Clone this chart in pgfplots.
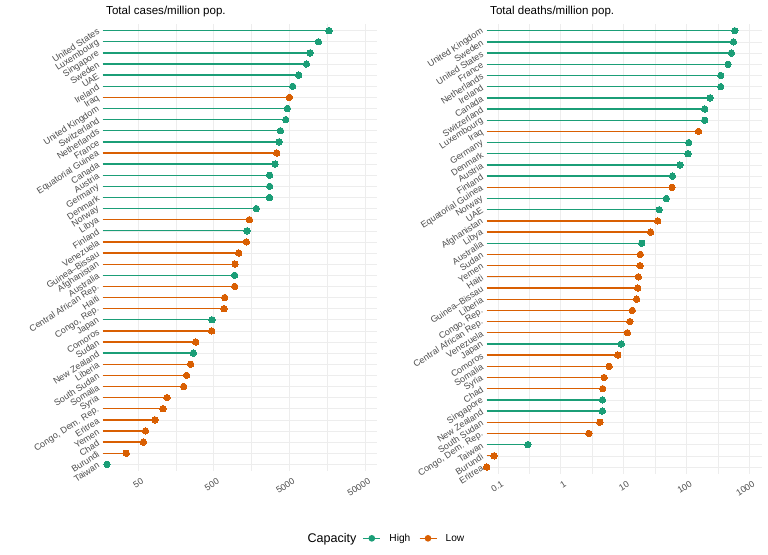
\documentclass[border=0pt]{standalone}
\usepackage{fontspec}
\setmainfont{Liberation Sans}
\usepackage{pgfplots}
\usepackage{pgfplotstable}
\pgfplotsset{compat=1.18}
\definecolor{high}{HTML}{1B9E77}
\definecolor{low}{HTML}{D95F02}
\definecolor{gridc}{HTML}{EDEDED}
\definecolor{tickc}{HTML}{4D4D4D}

% Total cases per million population
\pgfplotstableread{
y v
40 16800
39 12170
38 9420
37 8450
36 6680
35 5560
33 4730
32 4500
31 3830
30 3670
28 3250
27 2760
26 2760
25 2740
24 1840
22 1385
18 950
14 476
11 270
1 19.5
}\casesHigh
\pgfplotstableread{
y v
34 5030
29 3420
23 1490
21 1358
20 1074
19 959
17 950
16 701
15 687
13 472
12 290
10 249
9 220
8 201
7 121
6 107
5 84
4 63
3 59
2 35
}\casesLow
% Total deaths per million population
\pgfplotstableread{
y v
40 590
39 561
38 521
37 461
36 353
35 352
34 238
33 196
32 196
30 109
29 106
28 79
27 60
25 48
24 37
21 19.5
12 9.2
7 4.62
6 4.6
3 0.30
}\deathsHigh
\pgfplotstableread{
y v
31 156
26 59
23 35
22 27
20 18.5
19 18.3
18 17.2
17 16.8
16 16.2
15 13.8
14 12.6
13 11.5
11 8.1
10 5.9
9 4.9
8 4.66
5 4.2
4 2.8
2 0.087
1 0.0664
}\deathsLow

\pgfplotsset{
  lolli/.style={
    scale only axis,
    ymin=0.4, ymax=40.6,
    ytick={1,...,40},
    axis line style={draw=none},
    major tick length=0pt, minor tick length=0pt,
    grid=both,
    major grid style={gridc, line width=0.6bp},
    minor grid style={gridc, line width=0.35bp},
    /pgf/number format/assume math mode=true,
    yticklabel style={xshift=-4.2bp, rotate=33, anchor=east, inner sep=0pt,
      font=\fontsize{9}{10}\selectfont, text=tickc},
    xticklabel style={xshift=3bp, yshift=-6.5bp, rotate=32, anchor=north east, inner sep=0pt,
      font=\fontsize{9}{10}\selectfont, text=tickc},
    clip=true,
  },
  hi/.style={xcomb, color=high, line width=1.35bp, mark=*, mark size=3.2bp,
    mark options={fill=high, draw=high, line width=0pt},
    legend image code/.code={\draw[high, line width=1.3bp] (0bp,0bp) -- (17bp,0bp);
      \fill[high] (8.5bp,0bp) circle (2.6bp);}},
  lo/.style={xcomb, color=low, line width=1.35bp, mark=*, mark size=3.2bp,
    mark options={fill=low, draw=low, line width=0pt},
    legend image code/.code={\draw[low, line width=1.3bp] (0bp,0bp) -- (17bp,0bp);
      \fill[low] (8.5bp,0bp) circle (2.6bp);}},
}

\begin{document}
\begin{tikzpicture}
\useasboundingbox (0,0) rectangle (768bp,555bp);
\fill[white] (0,0) rectangle (768bp,555bp);

\begin{axis}[xmode=log, log origin x=infty, lolli,
  at={(102.7bp,84bp)}, anchor=south west,
  width=274bp, height=447bp,
  xmin=17.1, xmax=71800,
  xtick={50,500,5000,50000},
  xticklabels={50,500,5000,50000},
  minor xtick={158.1,1581,15811},
  yticklabels={Taiwan, Burundi, Chad, Yemen, Eritrea, {Congo, Dem. Rep.}, Syria, Somalia, South Sudan, Liberia, New Zealand, Sudan, Comoros, Japan, {Congo, Rep.}, Haiti, Central African Rep., Australia, Afghanistan, Guinea--Bissau, Venezuela, Finland, Libya, Norway, Denmark, Germany, Austria, Canada, Equatorial Guinea, France, Netherlands, Switzerland, United Kingdom, Iraq, Ireland, UAE, Sweden, Singapore, Luxembourg, United States},
  legend columns=-1,
  legend style={at={(0.948,-0.1506)}, anchor=west, draw=none, fill=none,
    inner sep=0pt, font=\fontsize{10.2}{12}\selectfont,
    nodes={inner sep=0pt, text=black},
    /tikz/every odd column/.append style={column sep=8.5bp},
    /tikz/every even column/.append style={column sep=8.5bp}},
]
\addplot[hi] table[x=v, y=y] {\casesHigh};
\addlegendentry{High}
\addplot[lo] table[x=v, y=y] {\casesLow};
\addlegendentry{Low}
\end{axis}

\begin{axis}[xmode=log, log origin x=infty, lolli,
  at={(486.7bp,81.3bp)}, anchor=south west,
  width=274.8bp, height=449.7bp,
  xmin=0.0664, xmax=1570,
  xtick={0.1,1,10,100,1000},
  xticklabels={0.1,1,10,100,1000},
  minor xtick={0.3162,3.162,31.62,316.2},
  yticklabels={Eritrea, Burundi, Taiwan, {Congo, Dem. Rep.}, South Sudan, New Zealand, Singapore, Chad, Syria, Somalia, Comoros, Japan, Venezuela, Central African Rep., {Congo, Rep.}, Liberia, Guinea--Bissau, Haiti, Yemen, Sudan, Australia, Libya, Afghanistan, UAE, Norway, Equatorial Guinea, Finland, Austria, Denmark, Germany, Iraq, Luxembourg, Switzerland, Canada, Ireland, Netherlands, France, United States, Sweden, United Kingdom},
]
\addplot[hi] table[x=v, y=y] {\deathsHigh};
\addplot[lo] table[x=v, y=y] {\deathsLow};
\end{axis}

\node[anchor=base west, font=\fontsize{11.6}{13}\selectfont] at (102.7bp,540.7bp) {Total cases/million pop.};
\node[anchor=base west, font=\fontsize{11.6}{13}\selectfont] at (486.7bp,540.7bp) {Total deaths/million pop.};
\node[anchor=base west, font=\fontsize{12.6}{14}\selectfont] at (304bp,12.5bp) {Capacity};
\end{tikzpicture}
\end{document}
